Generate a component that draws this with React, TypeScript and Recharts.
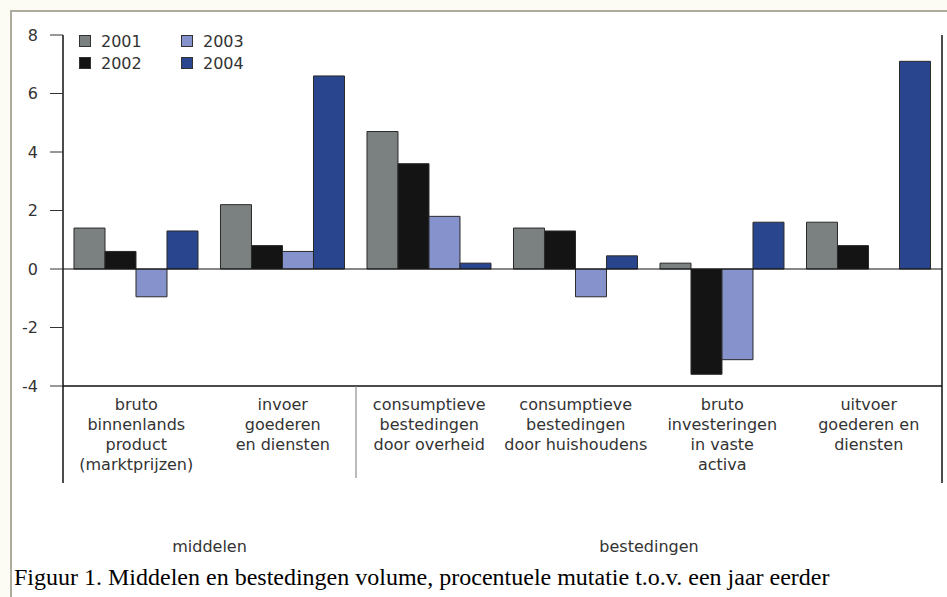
import { Bar, BarChart, ReferenceLine, XAxis, YAxis } from "recharts";

const categories = [
  ["bruto", "binnenlands", "product", "(marktprijzen)"],
  ["invoer", "goederen", "en diensten"],
  ["consumptieve", "bestedingen", "door overheid"],
  ["consumptieve", "bestedingen", "door huishoudens"],
  ["bruto", "investeringen", "in vaste", "activa"],
  ["uitvoer", "goederen en", "diensten"],
];

const years = ["2001", "2002", "2003", "2004"];
const v2001 = [1.4, 2.2, 4.7, 1.4, 0.2, 1.6];
const v2002 = [0.6, 0.8, 3.6, 1.3, -3.6, 0.8];
const v2003 = [-0.95, 0.6, 1.8, -0.95, -3.1, null];
const v2004 = [1.3, 6.6, 0.2, 0.45, 1.6, 7.1];
const yTicks = [-4, -2, 0, 2, 4, 6, 8];

const colors = ["#7b8181", "#141414", "#8592cc", "#28458e"];

const data = categories.map((c, i) => ({
  name: c.join(" "),
  y2001: v2001[i],
  y2002: v2002[i],
  y2003: v2003[i],
  y2004: v2004[i],
}));

const W = 947;
const H = 597;
const margin = { top: 35, right: 4, left: 13, bottom: 111 };
const Y_W = 50;
const PLOT_W = W - margin.left - margin.right - Y_W - 1;
const font = "'DejaVu Sans', sans-serif";
const txt = "#333";

function CategoryTick(props: any) {
  const { x, y, index } = props;
  const half = PLOT_W / categories.length / 2;
  const lines = categories[index] || [];
  const sepLen = 97;
  return (
    <g>
      {lines.map((l, i) => (
        <text
          key={i}
          x={x}
          y={y + 24 + i * 20}
          textAnchor="middle"
          fontSize={16}
          fontFamily={font}
          fill={txt}
        >
          {l}
        </text>
      ))}
      {index === 0 && (
        <>
          <line x1={x - half} x2={x - half} y1={y} y2={y + sepLen} stroke="#111" strokeWidth={1.5} />
          <text x={x + half} y={y + 166} textAnchor="middle" fontSize={16} fontFamily={font} fill={txt}>
            middelen
          </text>
        </>
      )}
      {index === 2 && (
        <line x1={x - half} x2={x - half} y1={y} y2={y + sepLen - 5} stroke="#777" strokeWidth={1} />
      )}
      {index === 3 && (
        <text x={x + half} y={y + 166} textAnchor="middle" fontSize={16} fontFamily={font} fill={txt}>
          bestedingen
        </text>
      )}
      {index === categories.length - 1 && (
        <line x1={x + half} x2={x + half} y1={y} y2={y + sepLen} stroke="#111" strokeWidth={1.5} />
      )}
    </g>
  );
}

function LegendBox() {
  return (
    <div
      style={{
        position: "absolute",
        left: 79,
        top: 30,
        display: "grid",
        gridTemplateColumns: "102px 80px",
        gridAutoFlow: "column",
        gridTemplateRows: "22px 22px",
        fontFamily: font,
        fontSize: 16,
        color: txt,
      }}
    >
      {years.map((yr, i) => (
        <div key={yr} style={{ display: "flex", alignItems: "center" }}>
          <span
            style={{
              display: "inline-block",
              width: 10,
              height: 10,
              background: colors[i],
              border: "1px solid #333",
              marginRight: 10,
            }}
          />
          {yr}
        </div>
      ))}
    </div>
  );
}

export default function App() {
  return (
    <div
      style={{
        position: "absolute",
        left: 0,
        top: 0,
        width: W,
        height: H,
        background: "#fcfbf4",
        overflow: "hidden",
      }}
    >
      <div
        style={{
          position: "absolute",
          left: 10,
          top: 10,
          width: W - 10,
          height: H - 10,
          background: "#fff",
          borderTop: "2px solid #aeac9e",
          borderLeft: "2px solid #aeac9e",
          boxSizing: "border-box",
        }}
      />
      <div style={{ position: "absolute", left: 0, top: 0 }}>
        <BarChart
          width={W}
          height={H}
          data={data}
          margin={margin}
          barCategoryGap="7.5%"
          barGap={0}
        >
          <YAxis
            domain={[-4, 8]}
            ticks={yTicks}
            width={Y_W}
            axisLine={{ stroke: "#111", strokeWidth: 1.5 }}
            tickLine={{ stroke: "#333" }}
            tickSize={13}
            tickMargin={12}
            tick={{ fontSize: 16, fontFamily: font, fill: txt }}
            interval={0}
          />
          <YAxis
            yAxisId="right"
            orientation="right"
            domain={[-4, 8]}
            width={1}
            tick={false}
            tickLine={false}
            axisLine={{ stroke: "#111", strokeWidth: 1.5 }}
          />
          <XAxis
            dataKey="name"
            height={100}
            interval={0}
            tickLine={false}
            tickSize={0}
            tickMargin={0}
            axisLine={{ stroke: "#111", strokeWidth: 1.5 }}
            tick={<CategoryTick />}
          />
          <ReferenceLine y={0} stroke="#111" strokeWidth={1.2} />
          {years.map((yr, i) => (
            <Bar
              key={yr}
              dataKey={`y${yr}`}
              name={yr}
              fill={colors[i]}
              stroke="#2a2a2a"
              strokeWidth={1}
              isAnimationActive={false}
            />
          ))}
        </BarChart>
      </div>
      <LegendBox />
      <div
        style={{
          position: "absolute",
          left: 14,
          top: 563,
          fontFamily: "'Liberation Serif', 'Times New Roman', serif",
          fontSize: 24,
          lineHeight: "28px",
          color: "#000",
          whiteSpace: "nowrap",
        }}
      >
        Figuur 1. Middelen en bestedingen volume, procentuele mutatie t.o.v. een jaar eerder
      </div>
    </div>
  );
}
